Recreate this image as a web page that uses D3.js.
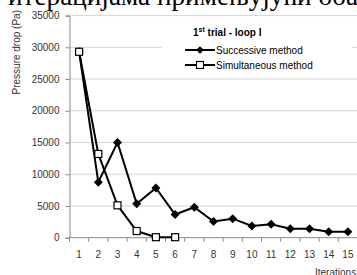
<!DOCTYPE html>
<html>
<head>
<meta charset="utf-8">
<script src="https://cdn.jsdelivr.net/npm/d3@7"></script>
<style>
  body { margin: 0; background: #fff; }
  svg { display: block; }
</style>
</head>
<body>
<div id="chart"></div>
<script>
// data
const iterations = [1, 2, 3, 4, 5, 6, 7, 8, 9, 10, 11, 12, 13, 14, 15];
const successive = [29300, 8750, 15000, 5350, 7850, 3650, 4800, 2550, 3000, 1850, 2100, 1400, 1400, 950, 950];
const simultaneous = [29300, 13200, 5100, 1050, 80, 80];
const yTicks = [0, 5000, 10000, 15000, 20000, 25000, 30000, 35000];
const seriesNames = ["Successive method", "Simultaneous method"];

const W = 357, H = 275;
const svg = d3.select("#chart").append("svg")
  .attr("width", W).attr("height", H);

// cut-off page text above the chart
const head = svg.append("text")
  .attr("y", 5)
  .style("font-family", "Liberation Serif, serif")
  .style("font-size", "24px")
  .attr("fill", "#000");
const pre = head.append("tspan").text("о ");
const main = head.append("tspan").text("итерацијама примењујући оба");
// scale so the visible words run from x=8 to the right edge
const fs = 24 * 350 / main.node().getComputedTextLength();
head.style("font-size", fs + "px");
head.attr("x", 8 - pre.node().getComputedTextLength());

const x = d3.scaleBand().domain(iterations).range([69.5, 357.5]);
const y = d3.scaleLinear().domain([0, 35000]).range([237.7, 15.6]);
const cx = d => x(d) + x.bandwidth() / 2;

const font = "Liberation Sans, Arial, sans-serif";

// gridlines
svg.append("g")
  .selectAll("line")
  .data(yTicks.filter(t => t > 0))
  .join("line")
  .attr("x1", 69.5).attr("x2", W)
  .attr("y1", d => y(d)).attr("y2", d => y(d))
  .attr("stroke", "#d4d4d4").attr("stroke-width", 1);

// legend background covers gridlines
svg.append("rect")
  .attr("x", 162).attr("y", 23).attr("width", 190).attr("height", 51)
  .attr("fill", "#fff");

// Y axis
const yAxis = svg.append("g")
  .attr("transform", "translate(69.5,0)")
  .call(d3.axisLeft(y).tickValues(yTicks).tickFormat(d3.format("d")).tickSize(4).tickPadding(6));
yAxis.select(".domain").attr("stroke", "#888");
yAxis.selectAll(".tick line").attr("stroke", "#888");
yAxis.selectAll("text")
  .style("font-family", font).style("font-size", "10px").attr("fill", "#333");

// X axis with ticks between categories
const xAxis = svg.append("g").attr("transform", `translate(0,${y(0)})`);
xAxis.append("line")
  .attr("x1", 69.5).attr("x2", W)
  .attr("stroke", "#888");
xAxis.selectAll(".xt")
  .data(iterations)
  .join("line")
  .attr("class", "xt")
  .attr("x1", d => x(d)).attr("x2", d => x(d))
  .attr("y1", 0).attr("y2", 4)
  .attr("stroke", "#888");
xAxis.selectAll(".xl")
  .data(iterations)
  .join("text")
  .attr("class", "xl")
  .attr("x", d => cx(d)).attr("y", 20.5)
  .attr("text-anchor", "middle")
  .style("font-family", font).style("font-size", "10px").attr("fill", "#333")
  .text(d => d);

// axis titles
svg.append("text")
  .attr("transform", "translate(20,10) rotate(-90)")
  .attr("text-anchor", "end")
  .style("font-family", font).style("font-size", "10px").attr("fill", "#333")
  .text("Pressure drop (Pa)");
svg.append("text")
  .attr("x", 315).attr("y", 276)
  .style("font-family", font).style("font-size", "10px").attr("fill", "#333")
  .text("Iterations");

// lines
const line = d3.line().x((d, i) => cx(iterations[i])).y(d => y(d));
svg.append("path").datum(successive)
  .attr("d", line).attr("fill", "none")
  .attr("stroke", "#000").attr("stroke-width", 2);
svg.append("path").datum(simultaneous)
  .attr("d", line).attr("fill", "none")
  .attr("stroke", "#000").attr("stroke-width", 2);

const diamond = "M0,-4.5L4.5,0L0,4.5L-4.5,0Z";
svg.selectAll(".dm")
  .data(successive)
  .join("path")
  .attr("class", "dm")
  .attr("d", diamond)
  .attr("transform", (d, i) => `translate(${cx(iterations[i])},${y(d)})`)
  .attr("fill", "#000");
svg.selectAll(".sq")
  .data(simultaneous)
  .join("rect")
  .attr("class", "sq")
  .attr("x", (d, i) => cx(iterations[i]) - 3.5)
  .attr("y", d => y(d) - 3.5)
  .attr("width", 7).attr("height", 7)
  .attr("fill", "#fff").attr("stroke", "#000").attr("stroke-width", 1.2);

// legend
const title = svg.append("text")
  .attr("x", 193).attr("y", 36)
  .style("font-family", font).style("font-size", "10px")
  .style("font-weight", "bold").attr("fill", "#000");
title.append("tspan").text("1");
title.append("tspan").attr("dy", -4).style("font-size", "7px").text("st");
title.append("tspan").attr("dy", 4).text(" trial - loop I");

const lg = svg.append("g");
seriesNames.forEach((name, i) => {
  const ly = 50 + i * 15;
  lg.append("line")
    .attr("x1", 185).attr("x2", 215).attr("y1", ly).attr("y2", ly)
    .attr("stroke", "#000").attr("stroke-width", 2);
  if (i === 0) {
    lg.append("path").attr("d", diamond)
      .attr("transform", `translate(200,${ly}) scale(0.85)`).attr("fill", "#000");
  } else {
    lg.append("rect")
      .attr("x", 196.5).attr("y", ly - 3.5).attr("width", 7).attr("height", 7)
      .attr("fill", "#fff").attr("stroke", "#000").attr("stroke-width", 1.2);
  }
  lg.append("text")
    .attr("x", 216).attr("y", ly + 3.5)
    .style("font-family", font).style("font-size", "10px").attr("fill", "#000")
    .text(name);
});
</script>
</body>
</html>
